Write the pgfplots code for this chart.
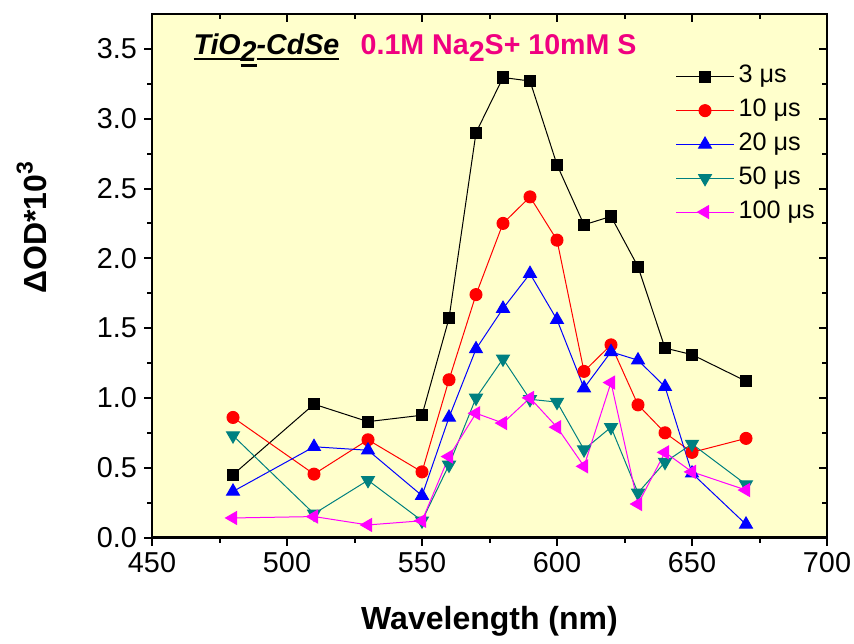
\documentclass[border=0pt]{standalone}
\usepackage{pgfplots}
\pgfplotsset{compat=1.18}
\usepackage{fontspec}
\setmainfont{Liberation Sans}
\definecolor{bgy}{RGB}{255,255,204}
\definecolor{pinkt}{RGB}{240,0,128}
\definecolor{tealc}{RGB}{0,128,128}
\definecolor{magc}{RGB}{255,0,255}
\newcommand\myul[1]{\setbox0\hbox{#1}\leavevmode\rlap{\rule[\dimexpr-\dp0-2.6pt\relax]{\wd0}{1.2pt}}\box0}
\pgfplotsset{common/.style={
  scale only axis, width=337.5pt, height=261.75pt,
  xmin=450, xmax=700, ymin=0, ymax=3.75,
  xtick={450,500,550,600,650,700},
  ytick={0,0.5,1,1.5,2,2.5,3,3.5},
  minor x tick num=1, minor y tick num=1,
  major tick length=4pt, minor tick length=2.5pt,
  tick style={black, line width=1pt},
  axis line style={line width=1.3pt},
}}
\begin{document}
\begin{tikzpicture}
\begin{axis}[
  common,
  tick pos=left, tick align=outside,
  axis background/.style={fill=bgy},
  /pgf/number format/assume math mode=true,
  ticklabel style={font=\fontsize{14.4}{16}\selectfont},
  yticklabel style={/pgf/number format/.cd, fixed, fixed zerofill, precision=1},
  xticklabel style={/pgf/number format/.cd, fixed, precision=0},
  xlabel={Wavelength (nm)},
  ylabel={ΔOD*10\raisebox{0.85ex}{\fontsize{11.5}{12}\selectfont 3}},
  label style={font=\bfseries\fontsize{16}{18}\selectfont},
  xlabel style={at={(axis description cs:0.5,-0.16)}, anchor=center},
  ylabel style={at={(axis description cs:-0.178,0.592)}, anchor=center},
  legend style={at={(rel axis cs:0.775,0.913)}, anchor=north west, draw=none, fill=none,
    font=\fontsize{12.6}{14}\selectfont, row sep=0pt, inner sep=0pt,
    nodes={text height=9.2pt, text depth=3.2pt, inner ysep=2.25pt}},
  legend cell align=left,
  legend image code/.code={\draw[mark repeat=2,mark phase=2] plot coordinates {(0pt,0pt) (14.5pt,0pt) (29pt,0pt)};},
]
\addplot[black, line width=0.5pt, mark=square*, mark size=2.8pt, mark options={solid}] coordinates {
(480,0.45) (510,0.955) (530,0.83) (550,0.876) (560,1.57) (570,2.90) (580,3.295) (590,3.27) (600,2.67) (610,2.24) (620,2.30) (630,1.94) (640,1.357) (650,1.31) (670,1.12)};
\addlegendentry{3 μs}
\addplot[red, line width=0.5pt, mark=*, mark size=3pt, mark options={solid}] coordinates {
(480,0.86) (510,0.454) (530,0.70) (550,0.47) (560,1.13) (570,1.74) (580,2.25) (590,2.44) (600,2.13) (610,1.19) (620,1.38) (630,0.95) (640,0.75) (650,0.61) (670,0.71)};
\addlegendentry{10 μs}
\addplot[blue, line width=0.5pt, mark=triangle*, mark size=3.7pt, mark options={solid}] coordinates {
(480,0.33) (510,0.65) (530,0.625) (550,0.30) (560,0.86) (570,1.35) (580,1.64) (590,1.89) (600,1.56) (610,1.07) (620,1.33) (630,1.27) (640,1.08) (650,0.46) (670,0.094)};
\addlegendentry{20 μs}
\addplot[tealc, line width=0.5pt, mark=triangle*, mark size=3.7pt, mark options={solid, rotate=180}] coordinates {
(480,0.73) (510,0.17) (530,0.41) (550,0.12) (560,0.52) (570,1.00) (580,1.28) (590,0.99) (600,0.97) (610,0.63) (620,0.79) (630,0.32) (640,0.54) (650,0.67) (670,0.38)};
\addlegendentry{50 μs}
\addplot[magc, line width=0.5pt, mark=triangle*, mark size=3.7pt, mark options={solid, rotate=90}] coordinates {
(480,0.14) (510,0.15) (530,0.09) (550,0.12) (560,0.58) (570,0.89) (580,0.82) (590,1.00) (600,0.79) (610,0.51) (620,1.11) (630,0.24) (640,0.61) (650,0.47) (670,0.34)};
\addlegendentry{100 μs}
\node[anchor=base west, font=\bfseries\fontsize{14.3}{16}\selectfont, inner sep=0pt] at (axis description cs:0.061,0.922)
  {\myul{\itshape TiO}\myul{\itshape\raisebox{-0.45ex}{2}}\myul{\itshape -CdSe}\hspace{0.75em}\textcolor{pinkt}{0.1M Na\raisebox{-0.45ex}{2}S+ 10mM S}};
\coordinate (bbl) at (rel axis cs:0,0);
\coordinate (btr) at (rel axis cs:1,1);
\end{axis}
\begin{axis}[
  common,
  tick pos=right, tick align=inside,
  xticklabels={}, yticklabels={},
]
\end{axis}
\pgfresetboundingbox
\path ([shift={(-76pt,-52.75pt)}]bbl) rectangle ([shift={(13.5pt,7pt)}]btr);
\end{tikzpicture}
\end{document}
